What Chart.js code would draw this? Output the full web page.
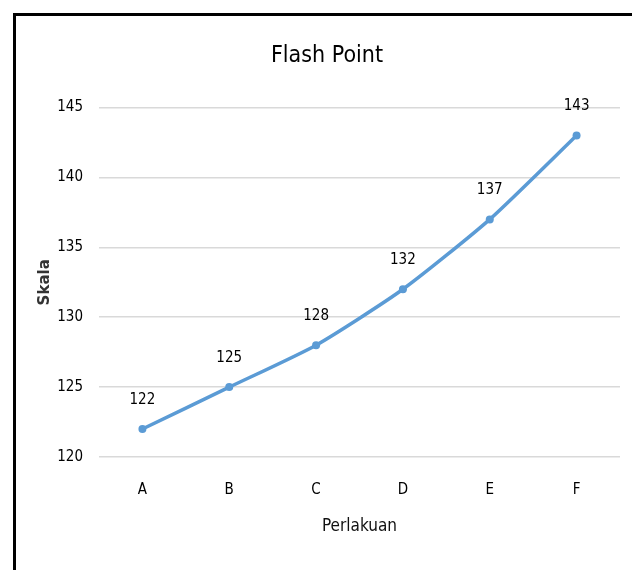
<!DOCTYPE html>
<html>
<head>
<meta charset="utf-8">
<script src="https://cdn.jsdelivr.net/npm/chart.js@4"></script>
<style>
  html, body { margin: 0; padding: 0; background: #fff; overflow: hidden; }
  #box {
    position: absolute; left: 13px; top: 13px;
    width: 622px; height: 560px;
    border-left: 3px solid #000; border-top: 3px solid #000;
    background: #fff;
  }
</style>
</head>
<body>
<div id="box"><canvas id="chart"></canvas></div>
<script>
const categories = ['A', 'B', 'C', 'D', 'E', 'F'];
const flashPoint = [122, 125, 128, 132, 137, 143];
const yTicks = [120, 125, 130, 135, 140, 145];

const FONT = "'Liberation Sans Narrow', 'Arial Narrow', 'DejaVu Sans Condensed', sans-serif";

// draw the value above each point, like excel data labels
const valueLabels = {
  id: 'valueLabels',
  afterDatasetsDraw(chart) {
    const ctx = chart.ctx;
    const meta = chart.getDatasetMeta(0);
    ctx.save();
    ctx.font = '15px ' + FONT;
    ctx.fillStyle = '#000';
    ctx.textAlign = 'center';
    ctx.textBaseline = 'middle';
    meta.data.forEach((pt, i) => {
      ctx.fillText(String(flashPoint[i]), pt.x, pt.y - 29);
    });
    ctx.restore();
  }
};

const canvas = document.getElementById('chart');
canvas.width = 622;
canvas.height = 554;

new Chart(canvas, {
  type: 'line',
  data: {
    labels: categories,
    datasets: [{
      label: 'Flash Point',
      data: flashPoint,
      borderColor: '#5B9BD5',
      backgroundColor: '#5B9BD5',
      borderWidth: 3.5,
      pointRadius: 4,
      pointBorderWidth: 0,
      tension: 0.2,
      fill: false
    }]
  },
  options: {
    responsive: false,
    animation: false,
    layout: { padding: { left: 0, right: 0, top: 0, bottom: 27 } },
    plugins: {
      legend: { display: false },
      tooltip: { enabled: false },
      title: {
        display: true,
        text: 'Flash Point',
        color: '#000',
        font: { family: FONT, size: 23, weight: 'normal' },
        padding: { top: 26, bottom: 38 }
      }
    },
    scales: {
      x: {
        offset: true,
        afterFit(scale) { scale.height = 86; },
        grid: { display: false },
        border: { display: false },
        ticks: { color: '#000', font: { family: FONT, size: 15 }, padding: 16 },
        title: {
          display: true,
          text: 'Perlakuan',
          color: '#111',
          font: { family: FONT, size: 17 },
          padding: { top: 0, bottom: 6 }
        }
      },
      y: {
        min: 120,
        max: 145,
        afterFit(scale) { scale.width = 83; },
        afterBuildTicks(scale) { scale.ticks = yTicks.map(v => ({ value: v })); },
        grid: { color: '#d9d9d9', lineWidth: 1.5, drawTicks: false },
        border: { display: false },
        ticks: { color: '#000', font: { family: FONT, size: 15 }, padding: 16 },
        title: {
          display: true,
          text: 'Skala',
          color: '#333',
          font: { family: "'DejaVu Sans', sans-serif", size: 15, weight: 'bold' },
          padding: { top: 20, bottom: 0 }
        }
      },
      // empty axis on the right, only to keep a margin there
      yRight: {
        position: 'right',
        min: 120,
        max: 145,
        afterFit(scale) { scale.width = 18; },
        grid: { display: false },
        border: { display: false },
        ticks: { display: false }
      }
    }
  },
  plugins: [valueLabels]
});
</script>
</body>
</html>
